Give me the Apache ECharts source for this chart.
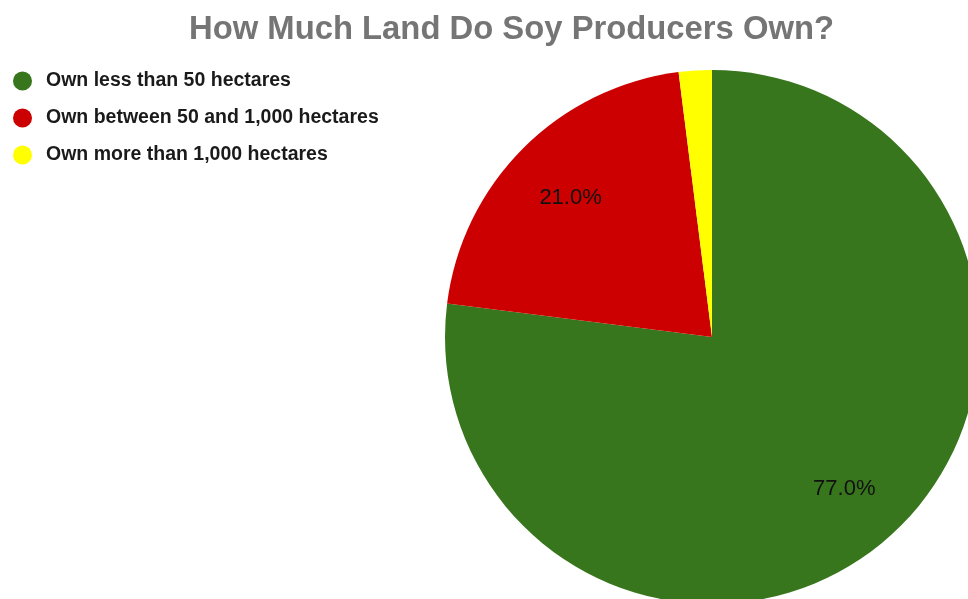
<!DOCTYPE html>
<html>
<head>
<meta charset="utf-8">
<script src="https://cdn.jsdelivr.net/npm/echarts@6/dist/echarts.min.js"></script>
<style>
  html, body { margin: 0; padding: 0; background: #fff; }
  #chart { width: 968px; height: 599px; }
</style>
</head>
<body>
<div id="chart"></div>
<script>
  // data
  const categories = [
    'Own less than 50 hectares',
    'Own between 50 and 1,000 hectares',
    'Own more than 1,000 hectares',
  ];
  const shares = [77.0, 21.0, 2.0];
  const colors = ['#38761d', '#cc0000', '#ffff00'];
  const shownLabels = [true, true, false]; // the small slice has no label

  const chart = echarts.init(document.getElementById('chart'));

  const pieData = categories.map((name, i) => ({
    name,
    value: shares[i],
    itemStyle: { color: colors[i] },
  }));

  // transparent copy of the pie, only used to push the labels further out
  const labelData = categories.map((name, i) => ({
    name,
    value: shares[i],
    label: { show: shownLabels[i] },
  }));

  chart.setOption({
    animation: false,
    title: {
      text: 'How Much Land Do Soy Producers Own?',
      left: 184,
      top: 8,
      textStyle: {
        fontFamily: 'Liberation Sans, Arial, sans-serif',
        fontSize: 32.8,
        fontWeight: 'bold',
        color: '#757575',
      },
    },
    legend: {
      orient: 'vertical',
      left: 8,
      top: 66,
      icon: 'circle',
      itemWidth: 19,
      itemHeight: 19,
      itemGap: 17,
      selectedMode: false,
      data: categories,
      textStyle: {
        fontFamily: 'Liberation Sans, Arial, sans-serif',
        fontSize: 19.5,
        lineHeight: 20,
        fontWeight: 'bold',
        color: '#1a1a1a',
        padding: [0, 0, 0, 9],
      },
    },
    series: [
      {
        type: 'pie',
        center: [712, 337],
        radius: [0, 267],
        startAngle: 90,
        clockwise: true,
        silent: true,
        label: { show: false },
        labelLine: { show: false },
        itemStyle: { borderWidth: 0 },
        data: pieData,
      },
      {
        type: 'pie',
        center: [712, 337],
        radius: [128, 266],
        startAngle: 90,
        clockwise: true,
        silent: true,
        legendHoverLink: false,
        itemStyle: { color: 'rgba(0,0,0,0)', borderWidth: 0 },
        label: {
          position: 'inside',
          formatter: (p) => p.value.toFixed(1) + '%',
          fontFamily: 'Liberation Sans, Arial, sans-serif',
          fontSize: 22,
          color: '#111',
          offset: [0, 2],
        },
        labelLine: { show: false },
        data: labelData,
      },
    ],
  });
</script>
</body>
</html>
